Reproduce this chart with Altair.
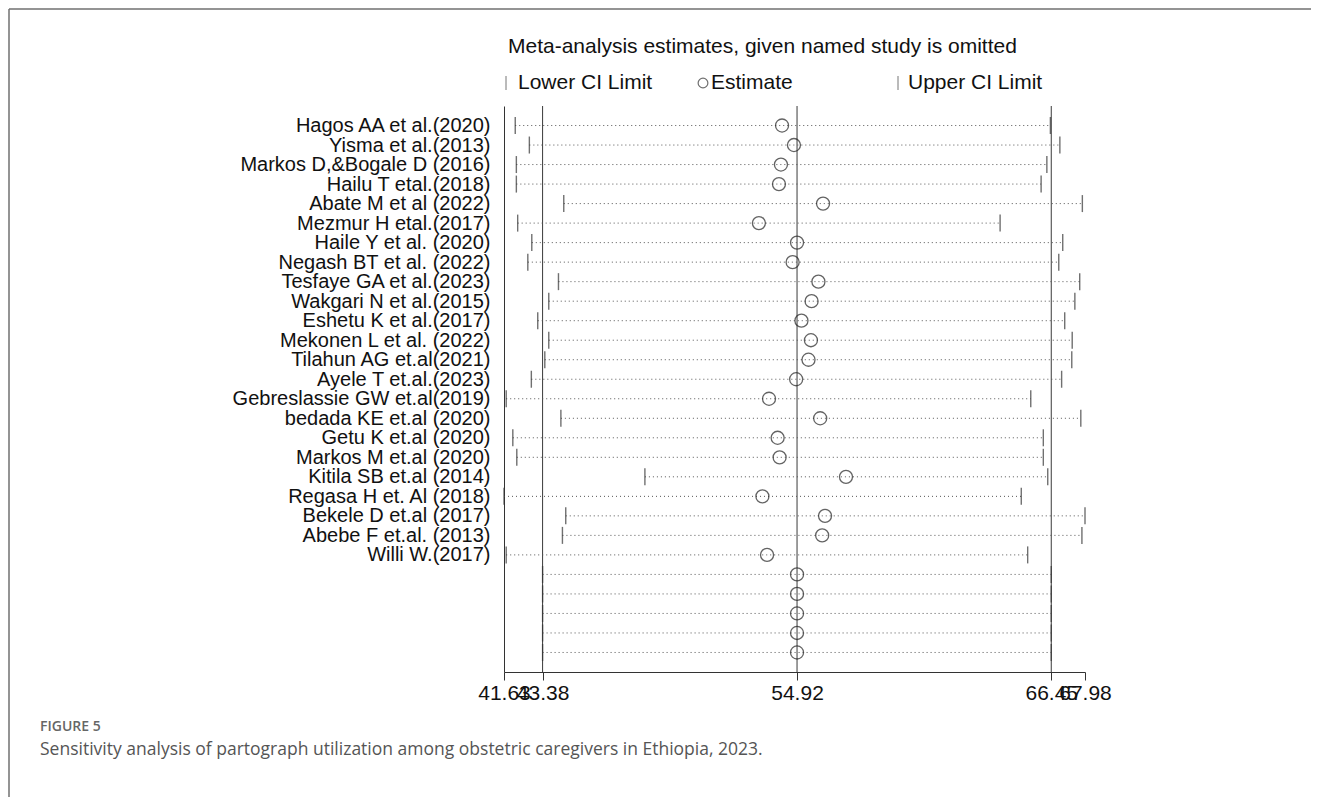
import altair as alt
import pandas as pd

studies = [
    "Hagos AA et al.(2020)", "Yisma et al.(2013)", "Markos D,&Bogale D (2016)",
    "Hailu T etal.(2018)", "Abate M et al (2022)", "Mezmur H etal.(2017)",
    "Haile Y et al. (2020)", "Negash BT et al. (2022)", "Tesfaye GA et al.(2023)",
    "Wakgari N et al.(2015)", "Eshetu K et al.(2017)", "Mekonen L et al. (2022)",
    "Tilahun AG et.al(2021)", "Ayele T et.al.(2023)", "Gebreslassie GW et.al(2019)",
    "bedada KE et.al (2020)", "Getu K et.al (2020)", "Markos M et.al (2020)",
    "Kitila SB et.al (2014)", "Regasa H et. Al (2018)", "Bekele D et.al (2017)",
    "Abebe F et.al. (2013)", "Willi W.(2017)",
]
lower = [42.14, 42.78, 42.19, 42.19, 44.34, 42.25, 42.89, 42.71, 44.10, 43.66, 43.16, 43.66,
         43.48, 42.87, 41.73, 44.21, 42.03, 42.21, 48.02, 41.63, 44.43, 44.28, 41.73]
estimate = [54.24, 54.78, 54.19, 54.10, 56.10, 53.19, 54.92, 54.72, 55.89, 55.58, 55.12, 55.55,
            55.44, 54.88, 53.65, 55.97, 54.04, 54.13, 57.14, 53.35, 56.19, 56.06, 53.56]
upper = [66.41, 66.84, 66.25, 65.99, 67.86, 64.13, 66.97, 66.79, 67.74, 67.52, 67.06, 67.40,
         67.38, 66.92, 65.52, 67.79, 66.09, 66.09, 66.29, 65.09, 67.98, 67.84, 65.38]
overall = [43.38, 54.92, 66.45]   # pooled lower CI, estimate, upper CI
n_blank = 5                        # unlabeled rows showing the pooled estimate
axis_ticks = [41.63, 43.38, 54.92, 66.45, 67.98]

title_text = "Meta-analysis estimates, given named study is omitted"
legend_items = ["Lower CI Limit", "Estimate", "Upper CI Limit"]
caption_head = "FIGURE 5"
caption_text = "Sensitivity analysis of partograph utilization among obstetric caregivers in Ethiopia, 2023."

FONT = "Liberation Sans"
NB = "\u00a0"

blank_keys = [NB * (k + 1) for k in range(n_blank)]
rows = pd.DataFrame({
    "study": studies + blank_keys,
    "lower": lower + [overall[0]] * n_blank,
    "est": estimate + [overall[1]] * n_blank,
    "upper": upper + [overall[2]] * n_blank,
})
order = list(rows["study"])

xscale = alt.Scale(domain=[axis_ticks[0], axis_ticks[-1]], nice=False, zero=False)
yscale = alt.Scale(type="point", padding=1)

xaxis = alt.Axis(values=axis_ticks, format=".2f", title=None, labelFontSize=21, labelFont=FONT,
                 labelColor="#111", tickSize=8, tickColor="#333", domainColor="#333",
                 labelOverlap=False, labelFlush=False, grid=False, labelPadding=2)
yaxis = alt.Axis(title=None, ticks=False, labelFontSize=20, labelFont=FONT, labelColor="#111",
                 labelPadding=14, labelLimit=600, domainColor="#333", grid=False)

base = alt.Chart(rows)

refs = alt.Chart(pd.DataFrame({"v": overall})).mark_rule(color="#3a3a3a", strokeWidth=1).encode(
    x=alt.X("v:Q", scale=xscale, axis=xaxis)
)
dots = base.mark_rule(strokeDash=[1, 3], color="#555", strokeWidth=1).encode(
    x=alt.X("lower:Q", scale=xscale, axis=xaxis),
    x2="upper:Q",
    y=alt.Y("study:N", sort=order, scale=yscale, axis=yaxis),
)
lo_tick = base.mark_tick(size=17, thickness=1.4, color="#333").encode(
    x=alt.X("lower:Q", scale=xscale), y=alt.Y("study:N", sort=order, scale=yscale)
)
hi_tick = base.mark_tick(size=17, thickness=1.4, color="#333").encode(
    x=alt.X("upper:Q", scale=xscale), y=alt.Y("study:N", sort=order, scale=yscale)
)
pts = base.mark_point(shape="circle", size=170, filled=False, strokeWidth=1.3, color="#222").encode(
    x=alt.X("est:Q", scale=xscale), y=alt.Y("study:N", sort=order, scale=yscale)
)


def label(text, x, y, size, color="#111", font=FONT, weight="normal"):
    return alt.Chart(pd.DataFrame({"t": [text]})).mark_text(
        align="left", baseline="middle", font=font, fontSize=size, fontWeight=weight, color=color
    ).encode(text="t:N", x=alt.value(x), y=alt.value(y))


one = pd.DataFrame({"k": [0]})


def vbar(x, y1, y2, color, width):
    return alt.Chart(one).mark_rule(color=color, strokeWidth=width).encode(
        x=alt.value(x), y=alt.value(y1), y2=alt.value(y2)
    )


frame_top = alt.Chart(one).mark_rule(color="#707070", strokeWidth=1.5).encode(
    x=alt.value(-495), x2=alt.value(807), y=alt.value(-97)
)
frame_left = vbar(-495, -97, 691, "#707070", 1.5)

legend_marks = [
    vbar(2, -30, -16, "#777", 1),
    vbar(394, -30, -16, "#777", 1),
    alt.Chart(one).mark_point(shape="circle", size=95, filled=False, strokeWidth=1.2,
                              color="#333").encode(x=alt.value(199), y=alt.value(-23)),
]

texts = [
    label(title_text, 4, -59, 21),
    label(legend_items[0], 14, -23, 21),
    label(legend_items[1], 207, -23, 21),
    label(legend_items[2], 404, -23, 21),
    label(caption_head, -464, 621, 14, color="#666", font="Open Sans", weight=600),
    label(caption_text, -464, 644, 17.5, color="#555", font="Open Sans"),
]

chart = alt.layer(refs, dots, lo_tick, hi_tick, pts, frame_top, frame_left,
                  *legend_marks, *texts).properties(
    width=581,
    height=566,
    autosize=alt.AutoSizeParams(type="none"),
    padding={"left": 496, "top": 98, "right": 226, "bottom": 125},
).configure_view(stroke=None)

chart.save("out.html", embed_options={"renderer": "svg", "actions": False})
